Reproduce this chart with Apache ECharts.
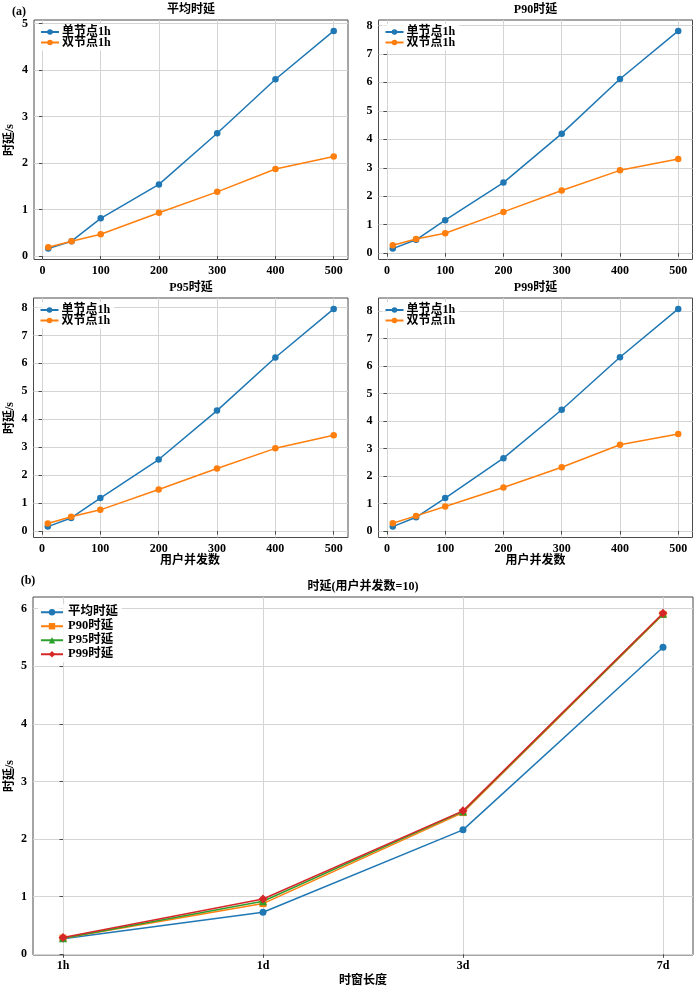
<!DOCTYPE html>
<html><head><meta charset="utf-8">
<script src="https://cdn.jsdelivr.net/npm/echarts@6/dist/echarts.min.js"></script>
<style>html,body{margin:0;padding:0;background:#fff}#c{width:700px;height:989px}</style>
</head><body><div id="c"></div>
<script>
// ---- data ----
const concurrency = [10, 50, 100, 200, 300, 400, 500];
const xTicksTop = [0, 100, 200, 300, 400, 500];
const panelTitles = ['平均时延', 'P90时延', 'P95时延', 'P99时延'];
const seriesNamesTop = ['单节点1h', '双节点1h'];
const avgSingle = [0.16, 0.32, 0.81, 1.54, 2.64, 3.80, 4.84];
const avgDouble = [0.19, 0.32, 0.47, 0.93, 1.38, 1.87, 2.14];
const p90Single = [0.16, 0.47, 1.16, 2.48, 4.20, 6.12, 7.81];
const p90Double = [0.28, 0.50, 0.70, 1.45, 2.20, 2.91, 3.31];
const p95Single = [0.16, 0.47, 1.18, 2.56, 4.31, 6.21, 7.95];
const p95Double = [0.27, 0.51, 0.76, 1.49, 2.24, 2.96, 3.43];
const p99Single = [0.16, 0.50, 1.20, 2.65, 4.41, 6.32, 8.08];
const p99Double = [0.28, 0.55, 0.89, 1.58, 2.32, 3.14, 3.53];
const yTicksAvg = [0, 1, 2, 3, 4, 5];
const yTicksP = [0, 1, 2, 3, 4, 5, 6, 7, 8];

const windows = ['1h', '1d', '3d', '7d'];
const bottomNames = ['平均时延', 'P90时延', 'P95时延', 'P99时延'];
const bAvg = [0.27, 0.73, 2.16, 5.33];
const bP90 = [0.28, 0.88, 2.46, 5.90];
const bP95 = [0.28, 0.92, 2.48, 5.91];
const bP99 = [0.29, 0.96, 2.49, 5.92];
const yTicksBottom = [0, 1, 2, 3, 4, 5, 6];

// ---- styling ----
const FONT = '"Liberation Serif","Noto Sans CJK SC",serif';
const BLUE = '#1f77b4', ORANGE = '#ff7f0e', GREEN = '#2ca02c', RED = '#d62728';
const GRIDC = '#d4d4d4', FRAME = '#4a4a4a';

const grids = [
  {left: 34, top: 20, width: 314, height: 239.5},
  {left: 378.5, top: 20, width: 314, height: 239.5},
  {left: 33.5, top: 298, width: 314.5, height: 239.5},
  {left: 378.5, top: 298, width: 314, height: 239.5},
  {left: 33, top: 597, width: 660, height: 358}
];
grids.forEach(g => { g.show = true; g.borderColor = FRAME; g.borderWidth = 1; g.backgroundColor = 'transparent'; g.containLabel = false; });

function mmRange(arrs) {
  let mn = Infinity, mx = -Infinity;
  arrs.forEach(a => a.forEach(v => { mn = Math.min(mn, v); mx = Math.max(mx, v); }));
  const m = (mx - mn) * 0.05;
  return [mn - m, mx + m];
}

const axLabel = {fontFamily: FONT, fontWeight: 'bold', fontSize: 12, color: '#000'};
function valAxis(gi, range, ticks, isX, fmt) {
  return {
    type: 'value', gridIndex: gi, min: range[0], max: range[1],
    axisLine: {show: false},
    axisTick: {show: true, customValues: ticks, length: 3.5, lineStyle: {color: FRAME, width: 1}},
    axisLabel: Object.assign({customValues: ticks, margin: isX ? 5 : 6, formatter: fmt || (v => String(v))}, axLabel),
    splitLine: {show: true, lineStyle: {color: GRIDC, width: 1}}
  };
}

const topX = [-14.5, 524.5];
const topData = [[avgSingle, avgDouble], [p90Single, p90Double], [p95Single, p95Double], [p99Single, p99Double]];
const xAxes = [], yAxes = [], series = [], legends = [];
topData.forEach((pair, i) => {
  xAxes.push(valAxis(i, topX, xTicksTop, true));
  yAxes.push(valAxis(i, mmRange(pair), i === 0 ? yTicksAvg : yTicksP, false));
  [BLUE, ORANGE].forEach((col, k) => {
    series.push({
      type: 'line', name: seriesNamesTop[k], xAxisIndex: i, yAxisIndex: i,
      data: concurrency.map((c, j) => [c, pair[k][j]]),
      symbol: 'circle', symbolSize: 6.5, showSymbol: true,
      lineStyle: {color: col, width: 1.5}, itemStyle: {color: col},
      emphasis: {disabled: true}, animation: false, z: 3 + k
    });
  });
  const g = grids[i];
  legends.push({
    data: seriesNamesTop, orient: 'vertical', left: g.left + 4, top: g.top + 4,
    itemWidth: 18, itemHeight: 7, itemGap: -1.5, padding: [2, 4, 2, 2],
    backgroundColor: 'rgba(255,255,255,0.85)',
    textStyle: {fontFamily: FONT, fontWeight: 'bold', fontSize: 12, color: '#000', padding: [0, 0, 0, -2]},
    selectedMode: false
  });
});

// bottom panel
const bArr = [bAvg, bP90, bP95, bP99];
xAxes.push(valAxis(4, [-0.15, 3.15], [0, 1, 2, 3], true, v => windows[Math.round(v)]));
yAxes.push(valAxis(4, mmRange(bArr), yTicksBottom, false));
const bCols = [BLUE, ORANGE, GREEN, RED];
const bSym = ['circle', 'rect', 'triangle', 'diamond'];
const bSize = [7, 7, 8, 9];
bArr.forEach((arr, k) => {
  series.push({
    type: 'line', name: bottomNames[k], xAxisIndex: 4, yAxisIndex: 4,
    data: arr.map((v, j) => [j, v]),
    symbol: bSym[k], symbolSize: bSize[k], showSymbol: true,
    lineStyle: {color: bCols[k], width: 1.5}, itemStyle: {color: bCols[k]},
    emphasis: {disabled: true}, animation: false, z: 3 + k
  });
});
legends.push({
  data: bottomNames, orient: 'vertical', left: 38, top: 604,
  itemWidth: 22, itemHeight: 8, itemGap: 1.5, padding: [2, 4, 2, 2],
  backgroundColor: 'rgba(255,255,255,0.85)',
  textStyle: {fontFamily: FONT, fontWeight: 'bold', fontSize: 12.5, color: '#000'},
  selectedMode: false
});

const tFont = 'bold 12px ' + FONT;
function txt(x, y, s, extra) {
  return Object.assign({type: 'text', x: x, y: y, silent: true,
    style: {text: s, font: tFont, fill: '#000', align: 'center', verticalAlign: 'middle'}}, extra || {});
}
const graphics = [
  txt(19, 12, '(a)'),
  txt(191, 10, panelTitles[0]),
  txt(535.5, 10, panelTitles[1]),
  txt(191, 288, panelTitles[2]),
  txt(535.5, 288, panelTitles[3]),
  txt(190, 561, '用户并发数'),
  txt(535.5, 561, '用户并发数'),
  txt(28, 581, '(b)'),
  txt(363, 587, '时延(用户并发数=10)'),
  txt(363, 981, '时窗长度'),
  txt(10, 140, '时延/s', {rotation: Math.PI / 2}),
  txt(10, 418, '时延/s', {rotation: Math.PI / 2}),
  txt(10, 776, '时延/s', {rotation: Math.PI / 2})
];

const chart = echarts.init(document.getElementById('c'), null, {renderer: 'canvas'});
chart.setOption({
  animation: false,
  backgroundColor: '#fff',
  grid: grids, xAxis: xAxes, yAxis: yAxes, series: series, legend: legends,
  graphic: graphics
});
</script></body></html>
